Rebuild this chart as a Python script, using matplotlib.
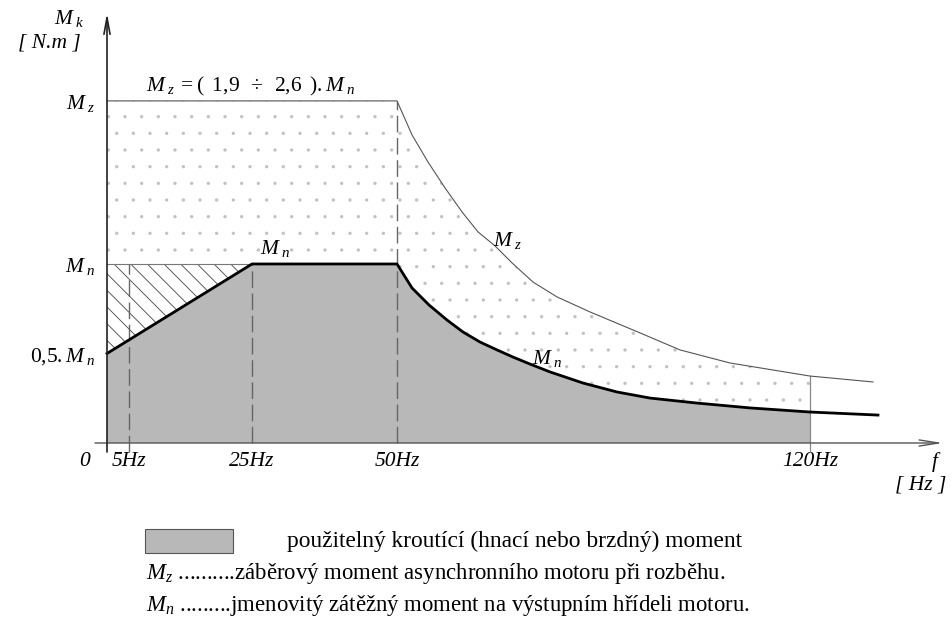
import matplotlib
matplotlib.use('Agg')
import matplotlib.pyplot as plt
from matplotlib.patches import Polygon, Rectangle
import numpy as np

plt.rcParams['font.family'] = ['Liberation Serif', 'DejaVu Serif']
plt.rcParams['mathtext.fontset'] = 'custom'
plt.rcParams['mathtext.it'] = 'Liberation Serif:italic'
plt.rcParams['mathtext.rm'] = 'Liberation Serif'
plt.rcParams['mathtext.bf'] = 'Liberation Serif:bold'

# ---- data (schematic: x = frequency position, y = torque in multiples of Mn) ----
f_ticks = [3.8, 25, 50, 121.2]
f_tick_labels = ['5Hz', '25Hz', '50Hz', '120Hz']
m_ticks = [0.5, 1.0, 1.911]
m_tick_labels = [r'$\mathit{0{,}5{.}}M_{\;n}$', r'$M_{\;n}$', r'$M_{\;z}$']

ramp_f = [0, 25, 50]
ramp_m = [0.5, 1.0, 1.0]
mn_curve_f = [50.0, 52.59, 55.52, 58.62, 61.38, 64.31, 67.24, 70.0, 72.93, 76.38, 82.07, 87.93, 93.62,
              101.72, 110.86, 121.21, 132.93]
mn_curve_m = [1.0, 0.866, 0.771, 0.687, 0.620, 0.564, 0.520, 0.480, 0.441, 0.397, 0.335, 0.285, 0.251,
              0.223, 0.196, 0.173, 0.156]
mz_f = [0, 50.0, 52.59, 55.34, 58.28, 61.21, 63.97, 66.90, 69.83, 73.45, 77.59, 83.28, 91.90, 98.79,
        107.41, 121.21, 132.07]
mz_m = [1.911, 1.911, 1.721, 1.570, 1.425, 1.291, 1.179, 1.101, 1.006, 0.899, 0.816, 0.732, 0.615, 0.520,
        0.447, 0.374, 0.341]
f_max_use = 121.21

legend_text = 'použitelný kroutící (hnací nebo brzdný) moment'
mz_text = r'$M_z$ ..........záběrový moment asynchronního motoru při rozběhu.'
mn_text = r'$M_n$ .........jmenovitý zátěžný moment na výstupním hřídeli motoru.'

W, H = 953, 627
fig = plt.figure(figsize=(W / 100, H / 100), dpi=100)
ax = fig.add_axes([95 / W, 1 - 452 / H, 848 / W, 439 / H])
xmin, xmax = -2.07, 144.14
ymin, ymax = -0.0503, 2.402
ax.set_xlim(xmin, xmax)
ax.set_ylim(ymin, ymax)
for s in ax.spines.values():
    s.set_visible(False)

# lower boundary of usable torque
low_f = np.array(ramp_f + mn_curve_f[1:])
low_m = np.array(ramp_m + mn_curve_m[1:])
sel = low_f <= f_max_use + 1e-9
ax.fill_between(low_f[sel], 0, low_m[sel], facecolor='#b8b8b8', edgecolor='none', zorder=1)

# stippled region between Mn and Mz
mzf = np.array(mz_f); mzm = np.array(mz_m)
up_sel = mzf <= f_max_use + 1e-9
mnf = np.array(mn_curve_f); mnm = np.array(mn_curve_m)
dn_sel = mnf <= f_max_use + 1e-9
poly_pts = [(0, 1.0)] + list(zip(mnf[dn_sel], mnm[dn_sel])) + list(zip(mzf[up_sel][::-1], mzm[up_sel][::-1]))
plt.rcParams['hatch.linewidth'] = 0.0
dots = Polygon(poly_pts, closed=True, facecolor='none', edgecolor='#c2c2c2', lw=0, hatch='.', zorder=1)
if hasattr(dots, 'set_hatch_linewidth'):
    dots.set_hatch_linewidth(0.0)
ax.add_patch(dots)

# hatched triangle (below Mn, above the ramp)
plt.rcParams['hatch.linewidth'] = 0.6
tri = Polygon([(ramp_f[0], ramp_m[0]), (ramp_f[0], ramp_m[1]), (ramp_f[1], ramp_m[1])], closed=True,
              facecolor='none', edgecolor='#444444', lw=0, hatch='\\\\', zorder=1)
if hasattr(tri, 'set_hatch_linewidth'):
    tri.set_hatch_linewidth(0.6)
ax.add_patch(tri)

# thin reference lines
ax.plot([0, 25], [1.0, 1.0], color='#777777', lw=0.8, zorder=2)
ax.plot(mz_f, mz_m, color='#555555', lw=0.8, zorder=3)

# dashed verticals
ax.plot([f_ticks[0]] * 2, [ymin, 1.0], color='#666666', lw=1, ls=(0, (12, 4)), zorder=2, clip_on=False)
ax.plot([f_ticks[1]] * 2, [0, 1.0], color='#666666', lw=1, ls=(0, (12, 4)), zorder=2)
ax.plot([f_ticks[2]] * 2, [0, mz_m[0]], color='#666666', lw=1, ls=(0, (12, 4)), zorder=2)
ax.plot([f_ticks[3]] * 2, [ymin, mz_m[-2]], color='#888888', lw=0.9, zorder=2, clip_on=False)

# thick usable-torque boundary
ax.plot(low_f, low_m, color='black', lw=2.0, zorder=4)

# axes with arrows
ax.annotate('', xy=(xmax, 0), xytext=(xmin, 0),
            arrowprops=dict(arrowstyle='->,head_length=1.4,head_width=0.22', lw=1, color='#555555',
                            shrinkA=0, shrinkB=0), annotation_clip=False, zorder=5)
ax.annotate('', xy=(0, ymax), xytext=(0, ymin),
            arrowprops=dict(arrowstyle='->,head_length=1.2,head_width=0.22', lw=1.2, color='#222222',
                            shrinkA=0, shrinkB=0), annotation_clip=False, zorder=5)

# ticks
ax.set_xticks(f_ticks, f_tick_labels, fontstyle='italic', fontsize=15.5)
ax.set_yticks(m_ticks, m_tick_labels, fontsize=15.5)
ax.tick_params(axis='both', length=0)
ax.tick_params(axis='x', pad=0)
ax.tick_params(axis='y', pad=0)

# annotations
tkw = dict(fontsize=15.5, fontstyle='italic', clip_on=False)
ax.text(-6.55, 2.374, r'$M_{\;k}$', ha='center', va='center', **tkw)
ax.text(-10.0, 2.235, '[ N.m ]', ha='center', va='center', **tkw)
ax.text(-3.79, -0.106, '0', ha='center', va='center', **tkw)
ax.text(142.8, -0.106, 'f', ha='center', va='center', **tkw)
ax.text(140.3, -0.235, '[ Hz ]', ha='center', va='center', **tkw)
ax.text(24.7, 1.990,
        r'$M_{\;z}\; =(\;\; \mathit{1{,}9}\;\;\div\;\;\mathit{2{,}6}\;\;)\mathit{{.}}M_{\;n}$',
        ha='center', va='center', **tkw)
ax.text(29.0, 1.085, r'$M_{\;n}$', ha='center', va='center', **tkw)
ax.text(66.6, 1.13, r'$M_{\;z}$', ha='left', va='center', **tkw)
ax.text(73.3, 0.47, r'$M_{\;n}$', ha='left', va='center', **tkw)

# legend block
fig.add_artist(Rectangle((145 / W, 1 - 553 / H), 88 / W, 24 / H, transform=fig.transFigure,
                         facecolor='#b8b8b8', edgecolor='#555555', lw=0.8))
fig.text(287 / W, 1 - 541 / H, legend_text, ha='left', va='center', fontsize=16.8)
fig.text(146 / W, 1 - 573 / H, mz_text, ha='left', va='center', fontsize=16.4)
fig.text(146 / W, 1 - 606 / H, mn_text, ha='left', va='center', fontsize=16.4)

fig.savefig('out.png', dpi=100)
